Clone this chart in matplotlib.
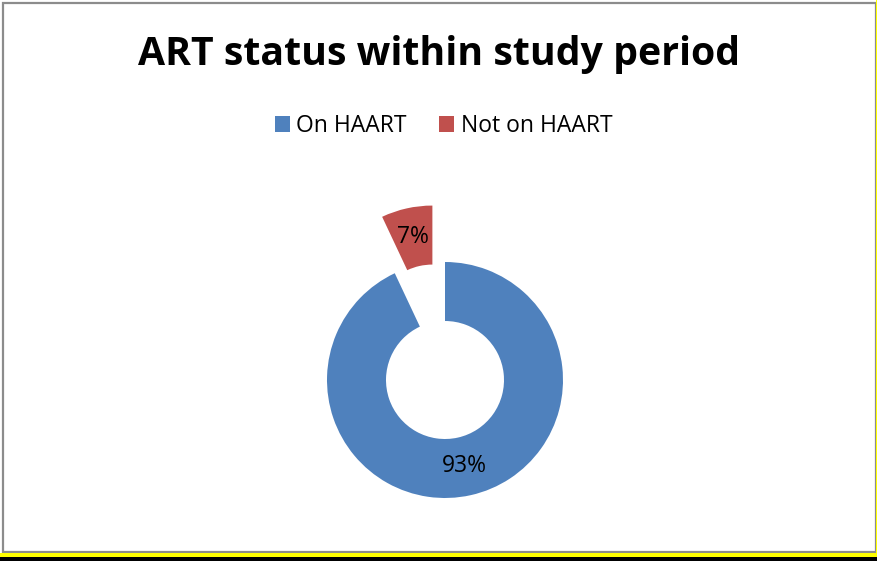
import matplotlib.pyplot as plt
from matplotlib.patches import Rectangle

# data
labels = ["On HAART", "Not on HAART"]
values = [93, 7]
colors = ["#4F81BD", "#C0504D"]
explode = [0, 0.49]

W, H = 878, 561
fig = plt.figure(figsize=(W / 100, H / 100), dpi=100)
fig.patch.set_facecolor("white")

# axes covering whole figure, 118 px per data unit, donut centre at (445, 380) px
R = 118.0
cx, cy = 445, H - 380
ax = fig.add_axes([0, 0, 1, 1])
wedges, texts, autotexts = ax.pie(
    values,
    colors=colors,
    explode=explode,
    startangle=90,
    counterclock=False,
    autopct="%d%%",
    pctdistance=0.75,
    wedgeprops=dict(width=0.5, edgecolor="none"),
    textprops=dict(fontsize=16.5, color="black", family="Open Sans"),
)
ax.set_aspect("auto")
ax.set_xlim(-cx / R, (W - cx) / R)
ax.set_ylim(-cy / R, (H - cy) / R)
ax.axis("off")

# title
fig.text(439 / W, 1 - 55 / H, "ART status within study period",
         ha="center", va="center", fontsize=28.3, fontweight="bold",
         family="Open Sans")

# legend
ax.legend(wedges, labels, loc="center", bbox_to_anchor=(443.5 / W, 1 - 126 / H),
          bbox_transform=fig.transFigure, ncol=2, frameon=False,
          prop=dict(family="Open Sans", size=16.5),
          handlelength=0.65, handleheight=0.65, handletextpad=0.3,
          columnspacing=1.4)

# frame: gray border with yellow/black strip at bottom and right
fig.patches.append(Rectangle((2.5 / W, 1 - 552 / H), 873.5 / W, 549.5 / H,
                             transform=fig.transFigure, fill=False,
                             edgecolor="#8C8C8C", linewidth=1.6))
fig.patches.append(Rectangle((0, 4 / H), 1, 4.5 / H, transform=fig.transFigure,
                             facecolor="#FFFF00", edgecolor="none"))
fig.patches.append(Rectangle((0, 0), 1, 4 / H, transform=fig.transFigure,
                             facecolor="black", edgecolor="none"))
fig.patches.append(Rectangle((876.5 / W, 4 / H), 1.5 / W, 1 - 4 / H,
                             transform=fig.transFigure,
                             facecolor="#FFFF00", edgecolor="none"))

fig.savefig("out.png", dpi=100, facecolor="white")
